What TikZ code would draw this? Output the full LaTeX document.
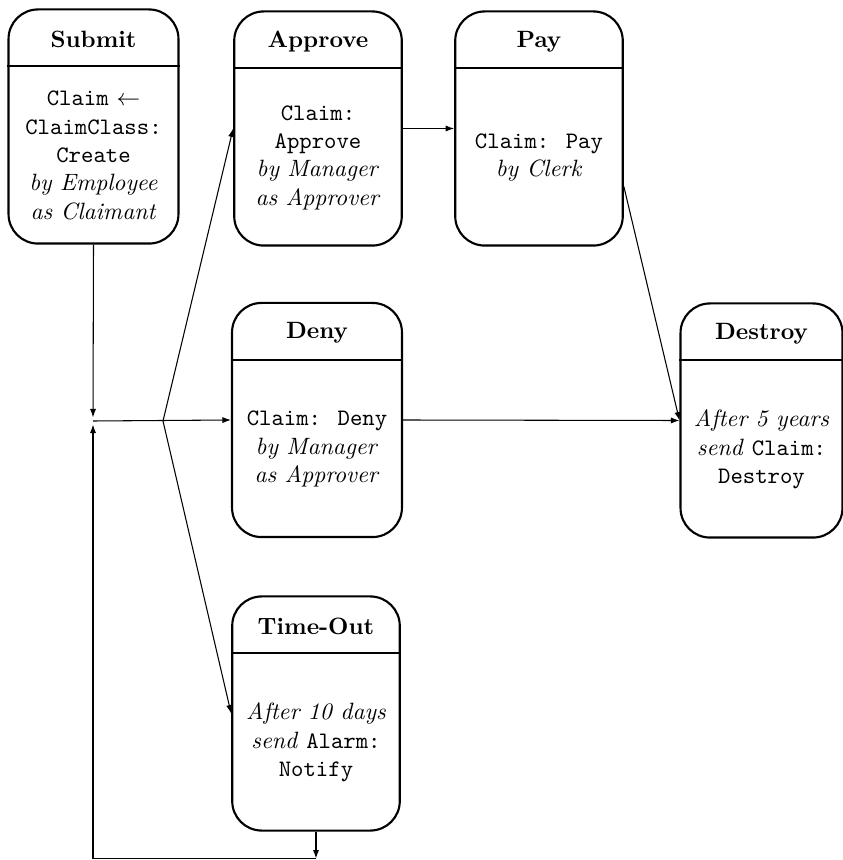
\documentclass[tikz,border=0pt]{standalone}
\usepackage{amsmath}
\usepackage{tikz}
\usetikzlibrary{calc}
\usetikzlibrary{arrows.meta}

\tikzset{
	stbox/.style = {draw, line width=0.9pt, rounded corners=12.5pt, inner sep=0pt,
		minimum height=99.2pt},
	sttitle/.style = {font=\bfseries},
	stbody/.style = {align=center, inner sep=0pt},
	flow/.style = {line width=0.45pt, -{Latex[length=3.6pt,width=2.6pt]}},
}

\begin{document}
\begin{tikzpicture}[x=0.4237pt, y=0.4237pt]
	\useasboundingbox (0,0) rectangle (843,860);

	\foreach \n/\x/\y/\w/\t/\b in {
		submit/93.5/733.5/72pt/Submit/{\texttt{Claim} $\leftarrow$\\\texttt{ClaimClass:}\\\texttt{Create}\\\textit{by Employee}\\\textit{as Claimant}},
		approve/318/731.5/71pt/Approve/{\texttt{Claim:}\\\texttt{Approve}\\\textit{by Manager}\\\textit{as Approver}},
		pay/539/731.5/71pt/Pay/{\texttt{Claim: Pay}\\\textit{by Clerk}},
		deny/317/440/72pt/Deny/{\texttt{Claim: Deny}\\\textit{by Manager}\\\textit{as Approver}},
		destroy/761.5/439.5/68.6pt/Destroy/{\textit{After 5 years}\\\textit{send} \texttt{Claim:}\\\texttt{Destroy}},
		timeout/316/146.5/71pt/Time-Out/{\textit{After 10 days}\\\textit{send} \texttt{Alarm:}\\\texttt{Notify}}}
	{
		\node[stbox, minimum width=\w] (\n) at (\x,\y) {};
		\node[sttitle] (\n-title) at ($(\n.north)+(0,-31)$) {\t};
		\draw[line width=0.9pt] ($(\n.north west)+(0,-58)$) -- ($(\n.north east)+(0,-58)$);
		\node[stbody] (\n-body) at ($(\n.center)+(0,-29)$) {\b};
	}

	\coordinate (j) at (93,439);
	\coordinate (fan) at (163,439);
	\coordinate (corner) at (93,1.5);
	\coordinate (tb) at (316,1.5);
	\coordinate (payout) at ($(pay.east)+(0,-58)$);

	\draw[flow, shorten >=1.5pt] (submit.south) -- (j);
	\draw[flow] (j) -- (deny.west);
	\draw[flow] (fan) -- (approve.west);
	\draw[flow] (fan) -- (timeout.west);
	\draw[flow] (approve.east) -- (pay.west);
	\draw[flow] (deny.east) -- (destroy.west);
	\draw[flow] (payout) -- (destroy.west);
	\draw[flow] (timeout.south) -- (tb);
	\draw[flow, shorten >=1.5pt] (tb) -- (corner) -- (j);
\end{tikzpicture}
\end{document}
